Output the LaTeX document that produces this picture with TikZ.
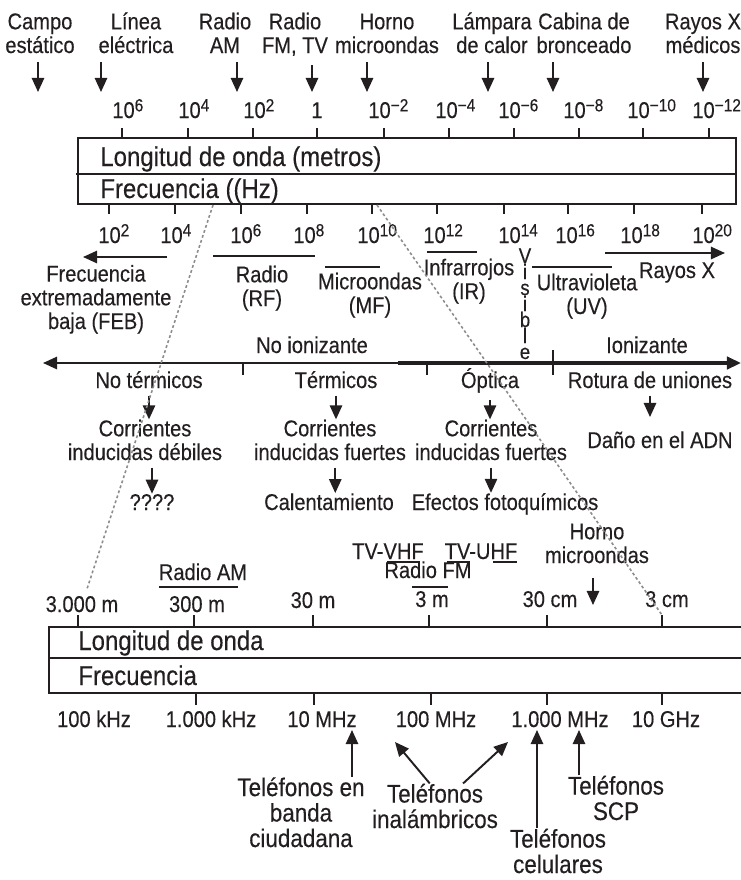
\documentclass[tikz,border=0pt]{standalone}
\usepackage{fontspec}
\setmainfont{Liberation Sans}[FakeStretch=0.88, FakeBold=0.3]
\usetikzlibrary{arrows.meta}
\definecolor{cInk}{HTML}{231F20}
\definecolor{cGuide}{HTML}{8C8C8C}
\newcommand{\tenpow}[1]{10\raisebox{3.8pt}{\fontsize{10}{10}\selectfont #1}}

\begin{document}
\begin{tikzpicture}[
    x=0.02cm, y=-0.02cm,
    font=\fontsize{13}{13.5}\selectfont\color{cInk},
    >={Triangle[length=8pt, width=7pt]},
    % Text styles (base = baseline of the last line)
    lbl/.style={inner sep=0pt, anchor=base, align=center},
    boxtext/.style={inner sep=0pt, anchor=base west, font=\fontsize{15.5}{16}\selectfont\color{cInk}},
    phone/.style={lbl, font=\fontsize{14.5}{14.5}\selectfont\color{cInk}},
    scalenum/.style={inner sep=0pt, anchor=base west},
    % Line styles
    scaleline/.style={draw=cInk, line width=1.1pt},
    scaletick/.style={draw=cInk, line width=0.9pt},
    band/.style={draw=cInk, line width=0.8pt},
    dnarrow/.style={->, draw=cInk, line width=1.1pt},
    guide/.style={draw=cGuide, line width=0.9pt, dash pattern=on 1.6pt off 1.4pt}
]
\useasboundingbox (0,0) rectangle (741,880);

% --- SOURCES (TOP) ---
\foreach \nm/\lx/\ax/\txt in {campo/40/38/{Campo\\estático}, linea/136/101/{Línea\\eléctrica},
    radioam/225/237/{Radio\\AM}, radiofm/295/312/{Radio\\FM, TV}, horno/387/367/{Horno\\microondas},
    lampara/492/488/{Lámpara\\de calor}, cabina/584/553/{Cabina de\\bronceado}, rayosx/703/703/{Rayos X\\médicos}} {
    \node[lbl] (\nm) at (\lx,53) {\txt};
    \coordinate (\nm-tip) at (\ax,92);
    \draw[dnarrow, shorten <=5pt] (\nm.south -| \nm-tip) -- (\nm-tip);
}

% --- WAVELENGTH / FREQUENCY SCALE ---
\draw[scaleline] (78,138) rectangle (736,204);
\draw[scaleline] (76,174) -- (736,174);
\node[boxtext] (wltext) at (100,166) {Longitud de onda (metros)};
\node[boxtext] (fqtext) at (100,198) {Frecuencia ((Hz)};

\foreach \x/\wx/\e in {122/112/6, 188/178/4, 253/243/2, 384/368/−2, 449/435/−4, 514/498/−6,
    579/563/−8, 643/627/−10, 709/692/−12} {
    \draw[scaletick] (\x,128) -- (\x,138);
    \node[scalenum] (wl-\x) at (\wx,118) {\tenpow{\e}};
}
\draw[scaletick] (317,128) -- (317,138);
\node[lbl] (wl-317) at (317,118) {1};

\foreach \x/\wx/\e in {109/98/2, 175/160/4, 241/230/6, 307/293/8, 372/357/10, 437/423/12,
    504/498/14, 568/555/16, 634/620/18, 702/692/20} {
    \draw[scaletick] (\x,204) -- (\x,214);
    \node[scalenum] (fq-\x) at (\wx,243) {\tenpow{\e}};
}

% --- BANDS ---
\draw[dnarrow] (167,257) -- (83,257);
\node[lbl] (feb) at (96,329) {Frecuencia\\extremadamente\\baja (FEB)};
\draw[band] (213,256) -- (315,256);
\node[lbl] (rf) at (262,306) {Radio\\(RF)};
\draw[band] (325,267) -- (380,267);
\node[lbl] (mf) at (370,313) {Microondas\\(MF)};
\draw[band] (427,252) -- (477,252);
\node[lbl] (ir) at (469,299) {Infrarrojos\\(IR)};
\foreach \c [count=\i from 0] in {V,i,s,i,b,l,e}
    \node[lbl, font=\fontsize{12}{12}\selectfont\color{cInk}] (vis\i) at (525,263+16*\i) {\c};
\draw[band] (532,267) -- (612,267);
\node[lbl] (uv) at (587,314) {Ultravioleta\\(UV)};
\draw[dnarrow] (605,253) -- (725,253);
\node[lbl] (rx) at (677,278) {Rayos X};

% --- IONIZING AXIS ---
\node[lbl] (noion) at (312,353) {No ionizante};
\node[lbl] (ion) at (647,353) {Ionizante};
\draw[dnarrow] (400,363) -- (43,363);
\draw[dnarrow, line width=2.2pt] (398,363) -- (741,363);
\draw[scaletick] (243,363) -- (243,375);
\draw[scaletick, line width=1.6pt] (427,363) -- (427,375);
\draw[scaletick] (553,350) -- (553,375);

% --- EFFECTS ---
\node[lbl] (nt) at (149,388) {No térmicos};
\node[lbl] (te) at (336,388) {Térmicos};
\node[lbl] (op) at (490,388) {Óptica};
\node[lbl] (ro) at (650,388) {Rotura de uniones};
\node[lbl] (cdeb) at (145,460) {Corrientes\\inducidas débiles};
\node[lbl] (cfue) at (330,460) {Corrientes\\inducidas fuertes};
\node[lbl] (cfot) at (491,460) {Corrientes\\inducidas fuertes};
\node[lbl] (adn) at (660,448) {Daño en el ADN};
\node[lbl] (unk) at (152,510) {????};
\node[lbl] (cal) at (329,510) {Calentamiento};
\node[lbl] (foto) at (505,510) {Efectos fotoquímicos};

\foreach \a/\b in {nt/cdeb, te/cfue, op/cfot} {
    \draw[dnarrow, shorten <=4pt] (\a.south) -- (\a.south |- \b.north);
}
\draw[dnarrow, shorten <=4pt, shorten >=8pt] (ro.south) -- (ro.south |- adn.north);
\draw[dnarrow, shorten <=4pt] (unk.north |- cdeb.south) -- (unk.north);
\draw[dnarrow, shorten <=4pt] ([xshift=3pt]cfue.south) -- ([xshift=3pt]cfue.south |- cal.north);
\draw[dnarrow, shorten <=4pt] (cfot.south) -- (cfot.south |- foto.north);

% --- RADIO DETAIL SCALE ---
\draw[scaleline] (741,627) -- (49,627) -- (49,693) -- (741,693);
\draw[scaleline] (49,658) -- (741,658);
\node[boxtext] (wltext2) at (78,650) {Longitud de onda};
\node[boxtext] (fqtext2) at (78,685) {Frecuencia};

\foreach \x/\y/\lx/\txt in {78/612/82/{3.000 m}, 194/612/197/{300 m}, 313/608/313/{30 m},
    429/607/432/{3 m}, 547/607/550/{30 cm}, 662/607/667/{3 cm}} {
    \draw[scaletick] (\x,615) -- (\x,627);
    \node[lbl] (wl2-\x) at (\lx,\y) {\txt};
}
\foreach \x/\lx/\txt in {196/211/{1.000 kHz}, 314/322/{10 MHz}, 431/436/{100 MHz}, 547/560/{1.000 MHz}, 662/666/{10 GHz}} {
    \draw[scaletick] (\x,693) -- (\x,705);
    \node[lbl] (fq2-\x) at (\lx,727) {\txt};
}
\node[lbl] (fq2-78) at (94,727) {100 kHz};

\node[lbl] (bam) at (203,580) {Radio AM};
\draw[band] (159,587) -- (238,587);
\node[lbl] (vhf) at (388,559) {TV-VHF};
\node[lbl] (uhf) at (481,559) {TV-UHF};
\node[lbl] (bfm) at (428,578) {Radio FM};
\draw[band] (387,562) -- (420,562);
\draw[band] (447,562) -- (470,562);
\draw[band] (493,562) -- (517,562);
\draw[band] (412,587) -- (448,587);

\node[lbl] (hornob) at (597,563) {Horno\\microondas};
\coordinate (hornob-tip) at (593,605);
\draw[dnarrow, shorten <=8pt] (hornob.south -| hornob-tip) -- (hornob-tip);

% --- GUIDES ---
\draw[guide] (213,205) -- (87,589);
\draw[guide] (377,205) -- (662,615);

% --- PHONES ---
\node[phone] (cb) at (301,847) {Teléfonos en\\banda\\ciudadana};
\node[phone] (inal) at (435,828) {Teléfonos\\inalámbricos};
\node[phone] (cel) at (558,873) {Teléfonos\\celulares};
\node[phone] (scp) at (616,820) {Teléfonos\\SCP};
\coordinate (cb-tip) at (352,730);
\coordinate (inal-l) at (395,742);
\coordinate (inal-r) at (508,742);
\coordinate (cel-tip) at (537,730);
\coordinate (scp-tip) at (579,730);
\draw[dnarrow] (cb-tip |- cb.north) -- (cb-tip);
\draw[dnarrow] ([xshift=-3pt]inal.north) -- (inal-l);
\draw[dnarrow] ([xshift=16pt]inal.north) -- (inal-r);
\draw[dnarrow] (cel-tip |- cel.north) -- (cel-tip);
\draw[dnarrow] (scp-tip |- scp.north) -- (scp-tip);

\end{tikzpicture}
\end{document}
